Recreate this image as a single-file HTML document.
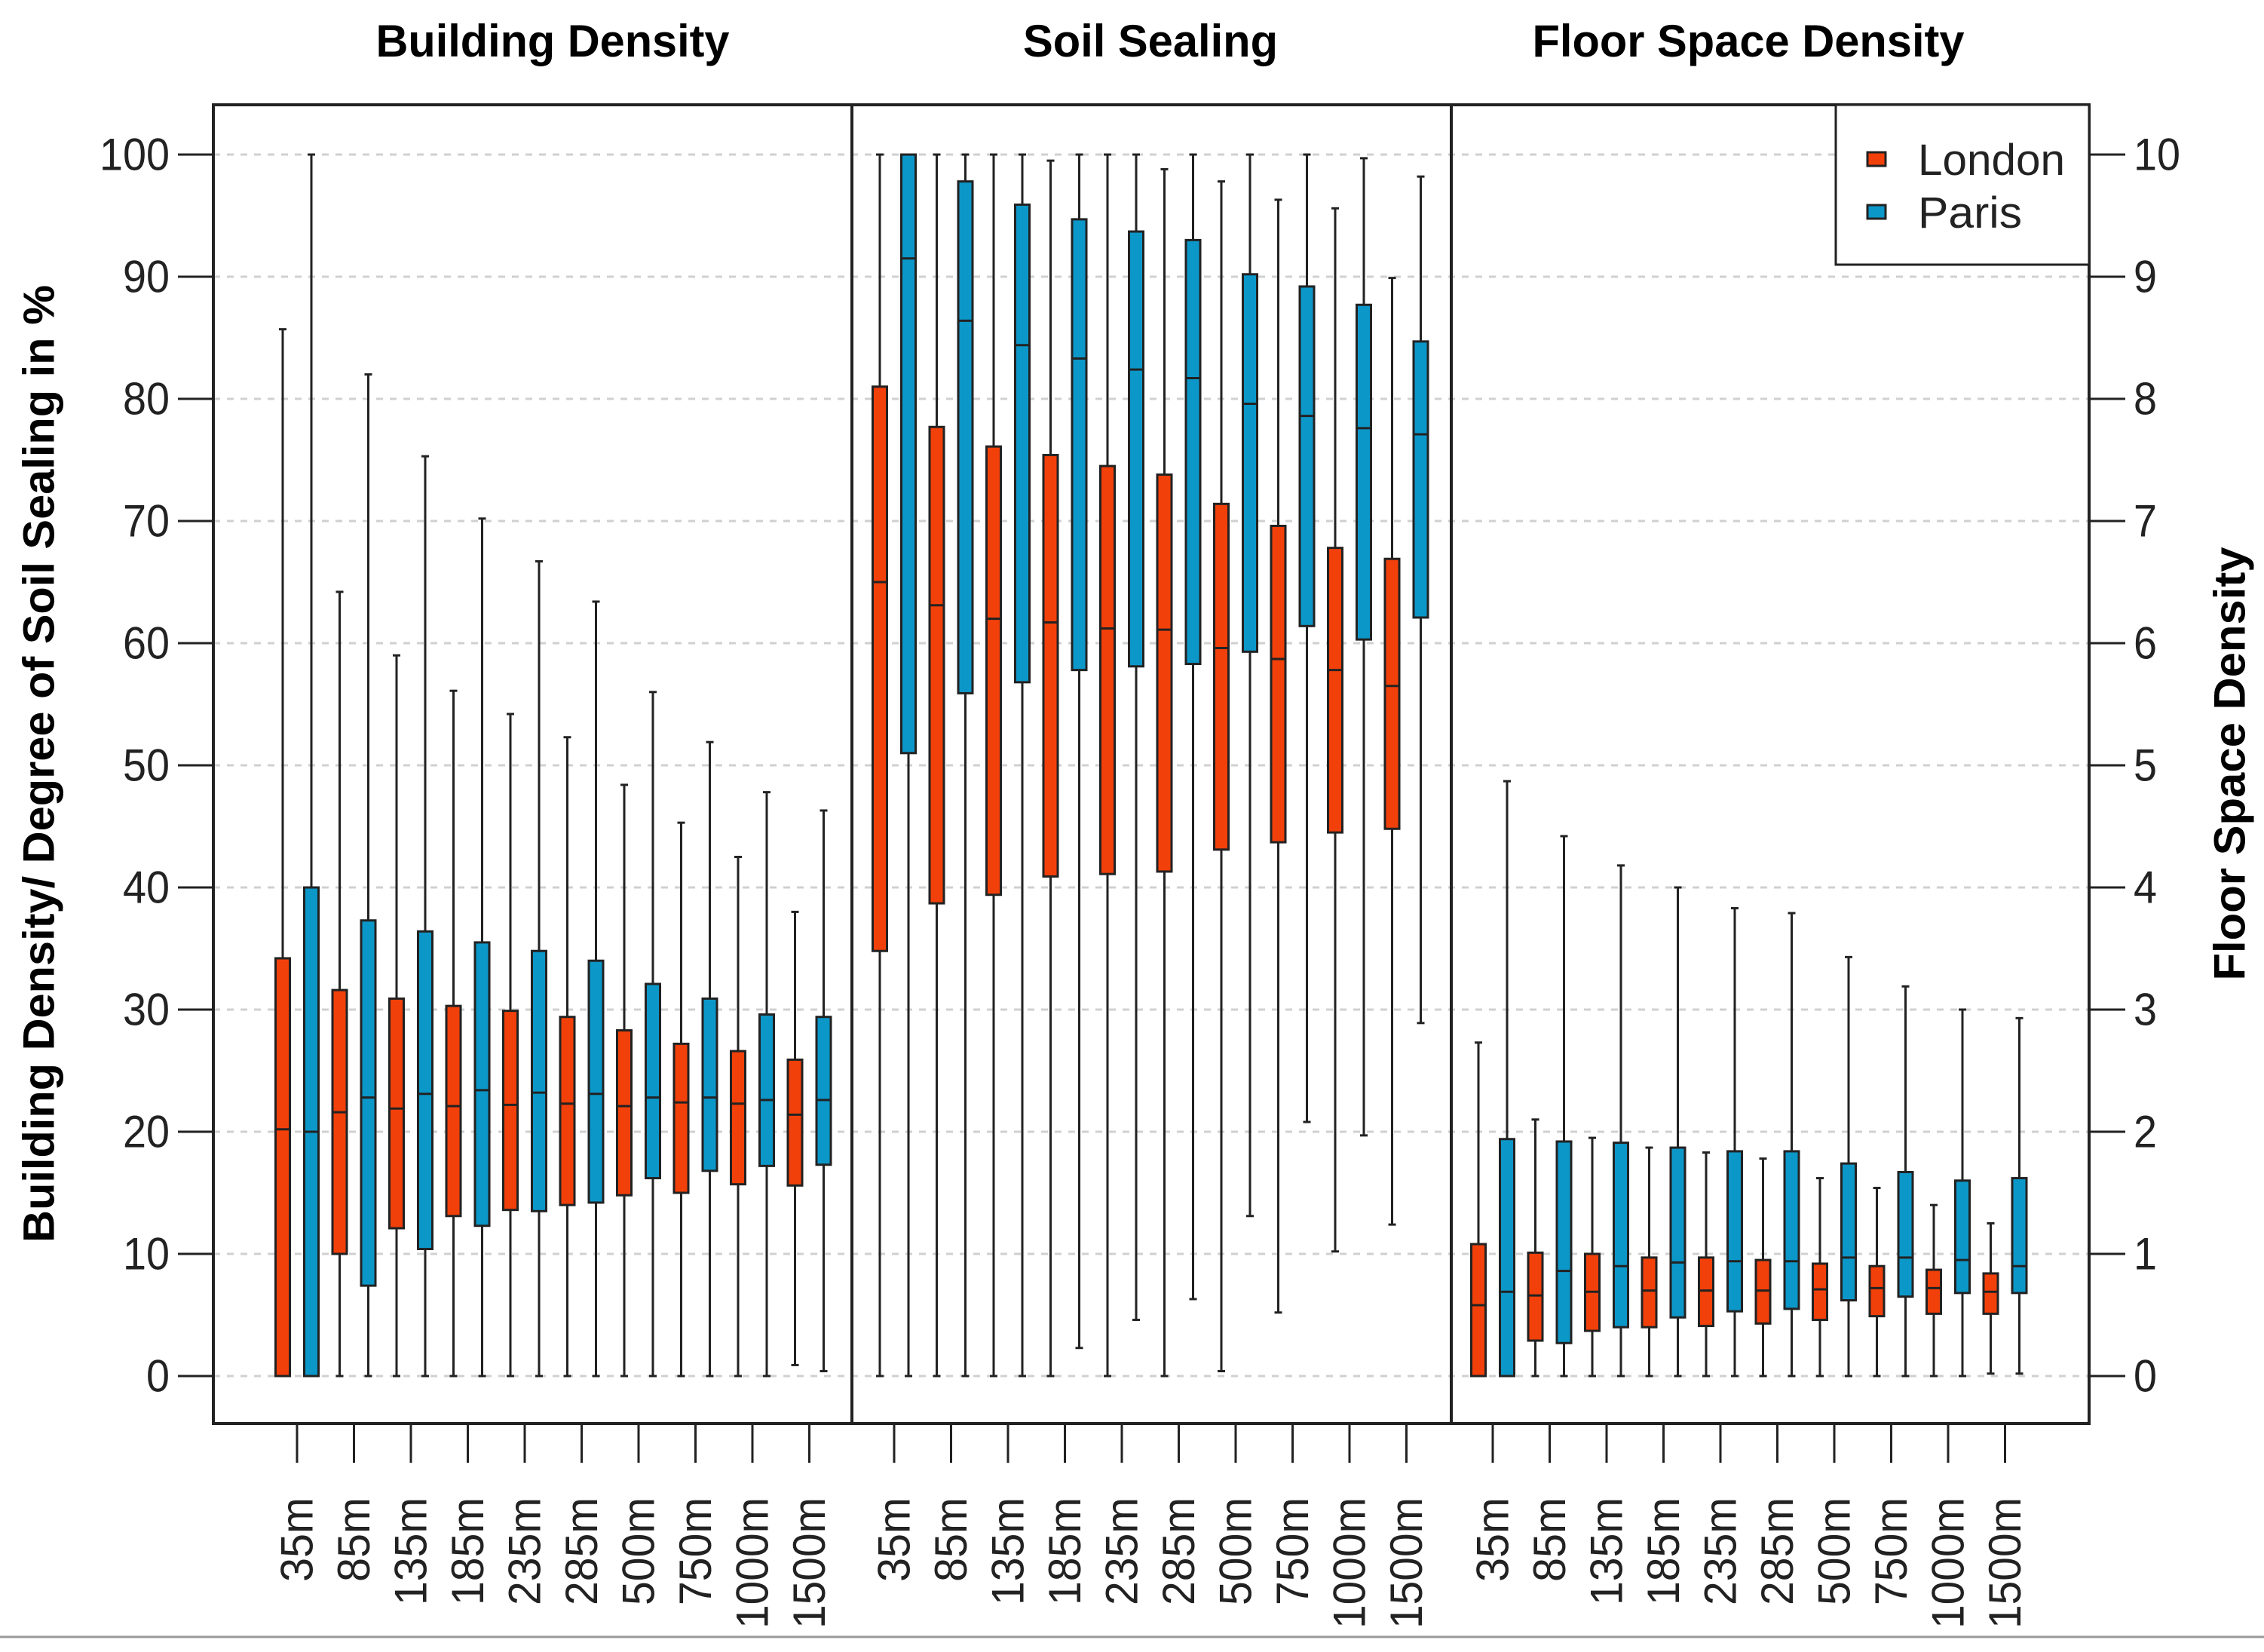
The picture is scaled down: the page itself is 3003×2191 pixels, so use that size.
<!DOCTYPE html>
<html><head><meta charset="utf-8">
<style>
html,body{margin:0;padding:0;background:#fff;}
svg{display:block;font-family:"Liberation Sans",Arial,sans-serif;}
</style></head>
<body>
<svg id="chart" width="3003" height="2191" viewBox="0 0 3003 2191" xmlns="http://www.w3.org/2000/svg">
<rect x="0" y="0" width="3003" height="2191" fill="#fff"/>
<g id="grid"></g>
<g id="marks"></g>
<g id="axes"></g>
<text x="733" y="75" font-size="60" font-weight="bold" text-anchor="middle" textLength="469" lengthAdjust="spacingAndGlyphs">Building Density</text>
<text x="1526" y="75" font-size="60" font-weight="bold" text-anchor="middle" textLength="338" lengthAdjust="spacingAndGlyphs">Soil Sealing</text>
<text x="2319" y="75" font-size="60" font-weight="bold" text-anchor="middle" textLength="573" lengthAdjust="spacingAndGlyphs">Floor Space Density</text>
<text transform="translate(52,1013) rotate(-90)" font-size="58" font-weight="bold" text-anchor="middle" dominant-baseline="central" textLength="1270" lengthAdjust="spacingAndGlyphs">Building Density/ Degree of Soil Sealing in %</text>
<text transform="translate(2958,1013) rotate(-90)" font-size="58" font-weight="bold" text-anchor="middle" dominant-baseline="central" textLength="575" lengthAdjust="spacingAndGlyphs">Floor Space Density</text>
<g>
<rect x="2435" y="139" width="336" height="212" fill="#fff" stroke="#222" stroke-width="3"/>
<rect x="2477" y="202" width="24" height="18" fill="#f2400a" stroke="#222" stroke-width="3"/>
<text x="2544" y="232" font-size="58" fill="#222" textLength="195" lengthAdjust="spacingAndGlyphs">London</text>
<rect x="2477" y="272" width="24" height="18" fill="#0c97c9" stroke="#222" stroke-width="3"/>
<text x="2544" y="302" font-size="58" fill="#222" textLength="138" lengthAdjust="spacingAndGlyphs">Paris</text>
</g>
<line x1="0" y1="2171" x2="3003" y2="2171" stroke="#999" stroke-width="3"/>
</svg>
<script>
const categories = ["35m","85m","135m","185m","235m","285m","500m","750m","1000m","1500m"];
const leftTicks = [0,10,20,30,40,50,60,70,80,90,100];
const rightTicks = [0,1,2,3,4,5,6,7,8,9,10];
// each entry: [min, q1, median, q3, max]
const bdLondon = [[0,0,20.2,34.2,85.7],[0,10,21.6,31.6,64.2],[0,12.1,21.9,30.9,59],[0,13.1,22.1,30.3,56.1],[0,13.6,22.2,29.9,54.2],[0,14,22.3,29.4,52.3],[0,14.8,22.1,28.3,48.4],[0,15,22.4,27.2,45.3],[0,15.7,22.3,26.6,42.5],[0.9,15.6,21.4,25.9,38]];
const bdParis = [[0,0,20,40,100],[0,7.4,22.8,37.3,82],[0,10.4,23.1,36.4,75.3],[0,12.3,23.4,35.5,70.2],[0,13.5,23.2,34.8,66.7],[0,14.2,23.1,34,63.4],[0,16.2,22.8,32.1,56],[0,16.8,22.8,30.9,51.9],[0,17.2,22.6,29.6,47.8],[0.4,17.3,22.6,29.4,46.3]];
const ssLondon = [[0,34.8,65,81,100],[0,38.7,63.1,77.7,100],[0,39.4,62,76.1,100],[0,40.9,61.7,75.4,99.5],[0,41.1,61.2,74.5,100],[0,41.3,61.1,73.8,98.8],[0.4,43.1,59.6,71.4,97.8],[5.2,43.7,58.7,69.6,96.3],[10.2,44.5,57.8,67.8,95.6],[12.4,44.8,56.5,66.9,89.9]];
const ssParis = [[0,51,91.5,100,100],[0,55.9,86.4,97.8,100],[0,56.8,84.4,95.9,100],[2.3,57.8,83.3,94.7,100],[4.6,58.1,82.4,93.7,100],[6.3,58.3,81.7,93,100],[13.1,59.3,79.6,90.2,100],[20.8,61.4,78.6,89.2,100],[19.7,60.3,77.6,87.7,99.7],[28.9,62.1,77.1,84.7,98.2]];
const fsLondon = [[0,0,0.58,1.08,2.73],[0,0.29,0.66,1.01,2.1],[0,0.37,0.69,1.0,1.95],[0,0.4,0.7,0.97,1.87],[0,0.41,0.7,0.97,1.83],[0,0.43,0.7,0.95,1.78],[0,0.46,0.71,0.92,1.62],[0,0.49,0.72,0.9,1.54],[0,0.51,0.72,0.87,1.4],[0.02,0.51,0.69,0.84,1.25]];
const fsParis = [[0,0,0.69,1.94,4.87],[0,0.27,0.86,1.92,4.42],[0,0.4,0.9,1.91,4.18],[0,0.48,0.93,1.87,4.0],[0,0.53,0.94,1.84,3.83],[0,0.55,0.94,1.84,3.79],[0,0.62,0.97,1.74,3.43],[0,0.65,0.97,1.67,3.19],[0,0.68,0.95,1.6,3.0],[0.02,0.68,0.9,1.62,2.93]];

const NS = "http://www.w3.org/2000/svg";
const Y0 = 1825, PX = 16.2;
function yL(v){ return Y0 - v*PX; }
function yR(v){ return Y0 - v*10*PX; }
const panels = [
  {x0:283, x1:1130, first:394, name:"building-density", london:bdLondon, paris:bdParis, y:yL},
  {x0:1130, x1:1925, first:1186, name:"soil-sealing", london:ssLondon, paris:ssParis, y:yL},
  {x0:1925, x1:2771, first:1980, name:"floor-space-density", london:fsLondon, paris:fsParis, y:yR}
];
const STEP = 75.5, OFF = 19, BW = 19;
const TOP = 139, BOT = 1888;
function mk(tag, attrs, parent){
  const e = document.createElementNS(NS, tag);
  for (const k in attrs) e.setAttribute(k, attrs[k]);
  parent.appendChild(e); return e;
}
const grid = document.getElementById("grid");
const marks = document.getElementById("marks");
const axes = document.getElementById("axes");
leftTicks.forEach(t => {
  const l = mk("line", {x1:283, x2:2771, y1:yL(t), y2:yL(t), stroke:"#d0d0d0", "stroke-width":3, "stroke-dasharray":"9,9"}, grid);
  
  
});
function drawBox(cx, d, y, fill, parent){
  const g = mk("g", {}, parent);
  
  
  mk("line", {x1:cx, x2:cx, y1:y(d[0]), y2:y(d[4]), stroke:"#222", "stroke-width":3}, g);
  mk("line", {x1:cx-5, x2:cx+5, y1:y(d[4]), y2:y(d[4]), stroke:"#222", "stroke-width":3}, g);
  mk("line", {x1:cx-5, x2:cx+5, y1:y(d[0]), y2:y(d[0]), stroke:"#222", "stroke-width":3}, g);
  mk("rect", {x:cx-BW/2, y:y(d[3]), width:BW, height:Math.max(0.5, y(d[1])-y(d[3])), fill:fill, stroke:"#222", "stroke-width":3}, g);
  mk("line", {x1:cx-BW/2, x2:cx+BW/2, y1:y(d[2]), y2:y(d[2]), stroke:"#222", "stroke-width":3}, g);
}
function labLen(s){ let n=0; for (const ch of s) n += (ch==='m') ? 50 : 31; return n; }
panels.forEach(p => {
  categories.forEach((c, i) => {
    const gx = p.first + i*STEP;
    drawBox(gx-OFF, p.london[i], p.y, "#f2400a", marks);
    drawBox(gx+OFF, p.paris[i], p.y, "#0c97c9", marks);
    const tk = mk("line", {x1:gx, x2:gx, y1:BOT, y2:1940, stroke:"#222", "stroke-width":3}, axes);
    
    
    const tx = mk("text", {transform:"translate("+gx+",1986) rotate(-90)", "font-size":60, "text-anchor":"end", "dominant-baseline":"central", fill:"#222", textLength:labLen(c), lengthAdjust:"spacingAndGlyphs"}, axes);
    tx.textContent = c;
    
    
  });
  const r = mk("rect", {x:p.x0, y:TOP, width:p.x1-p.x0, height:BOT-TOP, fill:"none", stroke:"#222", "stroke-width":4}, axes);
  
  
});
leftTicks.forEach(t => {
  const l = mk("line", {x1:236, x2:283, y1:yL(t), y2:yL(t), stroke:"#222", "stroke-width":3}, axes);
  
  
  const s = String(t);
  const tx = mk("text", {x:225, y:yL(t), "font-size":60, "text-anchor":"end", "dominant-baseline":"central", fill:"#222", textLength:s.length*31, lengthAdjust:"spacingAndGlyphs"}, axes);
  tx.textContent = s;
  
  
});
rightTicks.forEach(t => {
  const l = mk("line", {x1:2771, x2:2819, y1:yR(t), y2:yR(t), stroke:"#222", "stroke-width":3}, axes);
  
  
  const s = String(t);
  const tx = mk("text", {x:2830, y:yR(t), "font-size":60, "text-anchor":"start", "dominant-baseline":"central", fill:"#222", textLength:s.length*31, lengthAdjust:"spacingAndGlyphs"}, axes);
  tx.textContent = s;
  
  
});
</script>
</body></html>
